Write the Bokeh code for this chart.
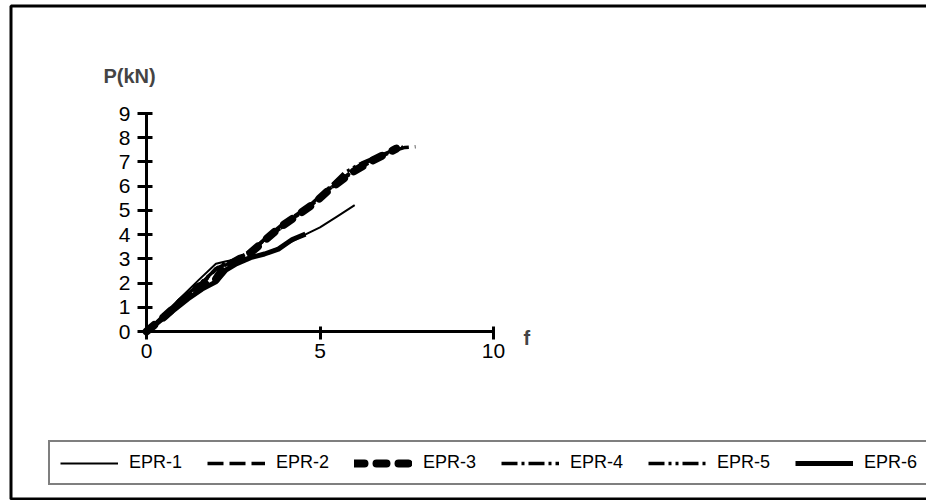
from bokeh.plotting import figure
from bokeh.models import (Range1d, FixedTicker, Legend, LegendItem, Label, LinearAxis)
from bokeh.embed import file_html
from bokeh.resources import INLINE

# ---- data ----
f_epr1 = [0, 0.5, 1.0, 1.5, 2.0, 2.3, 2.7, 3.0, 3.4, 3.8, 4.2, 4.6, 5.0, 5.5, 6.0]
p_epr1 = [0, 0.72, 1.42, 2.12, 2.80, 2.90, 3.00, 3.08, 3.20, 3.45, 3.72, 4.02, 4.30, 4.75, 5.22]

f_epr2 = [0, 0.6, 1.1, 1.6, 2.0, 2.5, 3.0, 3.5, 3.9, 4.3, 4.8, 5.4, 6.0, 6.6, 7.1, 7.45, 7.75]
p_epr2 = [0, 0.70, 1.38, 1.95, 2.60, 2.92, 3.30, 3.90, 4.30, 4.75, 5.28, 6.05, 6.62, 7.12, 7.45, 7.60, 7.63]

f_epr3 = [0, 0.5, 1.0, 1.5, 2.0, 2.2, 2.5, 3.0, 3.4, 3.8, 4.2, 4.8, 5.3, 5.9, 6.5, 7.0, 7.2]
p_epr3 = [0, 0.60, 1.25, 1.85, 2.15, 2.60, 2.85, 3.25, 3.75, 4.25, 4.65, 5.25, 5.90, 6.55, 7.05, 7.40, 7.55]

f_epr4 = [0, 0.6, 1.1, 1.6, 2.1, 2.6, 3.1, 3.5, 3.9, 4.3, 4.9, 5.5, 6.0, 6.5, 7.0, 7.4]
p_epr4 = [0, 0.78, 1.45, 2.05, 2.70, 3.00, 3.40, 3.95, 4.40, 4.80, 5.40, 6.15, 6.70, 7.10, 7.42, 7.62]

f_epr5 = [0, 0.5, 1.0, 1.5, 2.0, 2.5, 3.0, 3.4, 3.8, 4.2, 4.7, 5.2, 5.7, 6.2, 6.6]
p_epr5 = [0, 0.62, 1.30, 1.90, 2.55, 2.90, 3.30, 3.80, 4.20, 4.62, 5.20, 5.85, 6.55, 6.95, 7.20]

f_epr6 = [0, 0.4, 0.8, 1.2, 1.6, 2.0, 2.3, 2.6, 3.0, 3.4, 3.8, 4.2, 4.58]
p_epr6 = [0, 0.45, 0.90, 1.35, 1.75, 2.05, 2.55, 2.80, 3.05, 3.20, 3.40, 3.80, 4.02]

series_names = ["EPR-1", "EPR-2", "EPR-3", "EPR-4", "EPR-5", "EPR-6"]
x_ticks = [0, 5, 10]
y_ticks = [0, 1, 2, 3, 4, 5, 6, 7, 8, 9]

# ---- layout geometry (canvas pixels) ----
W, H = 926, 500
X0, X10 = 146, 493      # pixel of f=0 and f=10
Y0, Y9 = 331, 113       # pixel of P=0 and P=9
SX = (X10 - X0) / 10.0
SY = (Y0 - Y9) / 9.0

def dx(px):
    return (px - X0) / SX

def dy(py):
    return (Y0 - py) / SY

p = figure(width=W, height=H, output_backend="svg", toolbar_location=None,
           x_range=Range1d(dx(0), dx(W)), y_range=Range1d(dy(H), dy(0)),
           x_axis_type=None, y_axis_type=None,
           min_border_left=0, min_border_top=0, min_border_right=0, min_border_bottom=0)
p.outline_line_color = None
p.background_fill_color = "white"
p.border_fill_color = "white"

# outer frame of the chart area (right side runs past the canvas edge)
bx = [dx(W + 20), dx(10.5), dx(10.5), dx(W + 20)]
by = [dy(5.5), dy(5.5), dy(498.5), dy(498.5)]
p.line(bx, by, line_color="black", line_width=3)

FONT = "Liberation Sans"
xaxis = LinearAxis(fixed_location=0, bounds=(0, 10))
yaxis = LinearAxis(fixed_location=0, bounds=(0, 9))
for ax, ticks, tin, tout, stand in ((xaxis, x_ticks, 5, 8, 4), (yaxis, y_ticks, 6, 9, 7)):
    ax.ticker = FixedTicker(ticks=ticks)
    ax.axis_line_width = 3
    ax.axis_line_color = "black"
    ax.major_tick_line_width = 3
    ax.major_tick_line_color = "black"
    ax.major_tick_in = tin
    ax.major_tick_out = tout
    ax.minor_tick_line_color = None
    ax.major_label_text_font = FONT
    ax.major_label_text_font_size = "21px"
    ax.major_label_text_color = "black"
    ax.major_label_standoff = stand
p.add_layout(xaxis, "below")
p.add_layout(yaxis, "left")

styles = [
    dict(line_width=2),
    dict(line_width=3.5, line_dash="16 6"),
    dict(line_width=8, line_dash="10 12", line_cap="round"),
    dict(line_width=3.5, line_dash="16 4 3 4"),
    dict(line_width=3.5, line_dash="16 4 3 4 3 4"),
    dict(line_width=5),
]
data = [(f_epr1, p_epr1), (f_epr2, p_epr2), (f_epr3, p_epr3),
        (f_epr4, p_epr4), (f_epr5, p_epr5), (f_epr6, p_epr6)]

items = []
for name, (xs, ys), st in zip(series_names, data, styles):
    r = p.line(xs, ys, line_color="black", line_join="round", **st)
    items.append(LegendItem(label=name, renderers=[r]))

legend = Legend(items=items, orientation="horizontal", location=(48, H - 485))
legend.label_text_font = FONT
legend.label_text_font_size = "18px"
legend.label_text_color = "black"
legend.glyph_width = 58
legend.glyph_height = 20
legend.label_standoff = 11
legend.spacing = 25
legend.padding = 10
legend.margin = 0
legend.border_line_color = "black"
legend.border_line_width = 2
legend.background_fill_alpha = 1
p.add_layout(legend, "center")

p.add_layout(Label(x=dx(103), y=dy(75), text="P(kN)", text_font=FONT,
                   text_font_size="20px", text_font_style="bold",
                   text_baseline="alphabetic"))
p.add_layout(Label(x=dx(523), y=dy(337), text="f", text_font=FONT,
                   text_font_size="20px", text_font_style="bold",
                   text_baseline="alphabetic"))

open("out.html", "w").write(file_html(p, INLINE))
